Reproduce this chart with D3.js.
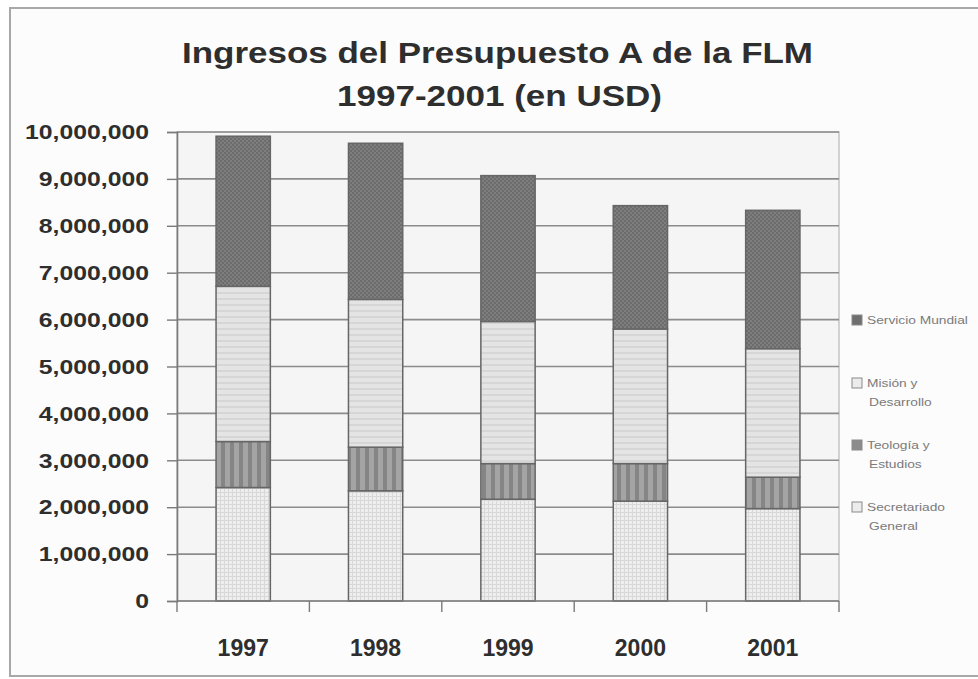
<!DOCTYPE html>
<html>
<head>
<meta charset="utf-8">
<script src="https://cdn.jsdelivr.net/npm/d3@7"></script>
<style>
  body { margin: 0; background: #ffffff; }
  svg text { font-family: "Liberation Sans", Arial, sans-serif; }
</style>
</head>
<body>
<svg id="chart" width="978" height="679"></svg>
<script>
const years = ['1997', '1998', '1999', '2000', '2001'];
const seriesNames = ['Secretariado General', 'Teología y Estudios', 'Misión y Desarrollo', 'Servicio Mundial'];
// values in USD, bottom to top of each stack
const secretariado = [2420000, 2350000, 2170000, 2130000, 1970000];
const teologia = [980000, 930000, 760000, 800000, 670000];
const mision = [3310000, 3150000, 3030000, 2870000, 2740000];
const servicio = [3200000, 3330000, 3110000, 2630000, 2950000];
const yTicks = [0, 1000000, 2000000, 3000000, 4000000, 5000000, 6000000, 7000000, 8000000, 9000000, 10000000];
const legendLines = [
  ['Servicio Mundial'],
  ['Misión y', 'Desarrollo'],
  ['Teología y', 'Estudios'],
  ['Secretariado', 'General']
];

const svg = d3.select('#chart');
const plotLeft = 177, plotRight = 839, plotTop = 132, plotBottom = 601;

// stretch text horizontally, the original is a widened scan
const stretch = (sel, k) => sel.each(function () {
  const w = this.getComputedTextLength();
  d3.select(this).attr('textLength', w * k).attr('lengthAdjust', 'spacingAndGlyphs');
});

// outer frame
svg.append('rect').attr('x', 0).attr('y', 0).attr('width', 978).attr('height', 679).attr('fill', '#ffffff');
svg.append('rect')
  .attr('x', 10).attr('y', 8).attr('width', 990).attr('height', 668)
  .attr('fill', '#fcfcfc').attr('stroke', '#a8a8a8').attr('stroke-width', 2);

// fill patterns
const defs = svg.append('defs');

const pServ = defs.append('pattern').attr('id', 'p-serv').attr('patternUnits', 'userSpaceOnUse').attr('width', 4).attr('height', 4);
pServ.append('rect').attr('width', 4).attr('height', 4).attr('fill', '#7e7e7e');
pServ.append('rect').attr('width', 2).attr('height', 2).attr('fill', '#6c6c6c');
pServ.append('rect').attr('x', 2).attr('y', 2).attr('width', 2).attr('height', 2).attr('fill', '#6c6c6c');

const pMis = defs.append('pattern').attr('id', 'p-mis').attr('patternUnits', 'userSpaceOnUse').attr('width', 6).attr('height', 6);
pMis.append('rect').attr('width', 6).attr('height', 6).attr('fill', '#e4e4e4');
pMis.append('rect').attr('y', 4).attr('width', 6).attr('height', 2).attr('fill', '#d6d6d6');

const pTeo = defs.append('pattern').attr('id', 'p-teo').attr('patternUnits', 'userSpaceOnUse').attr('width', 9).attr('height', 9);
pTeo.append('rect').attr('width', 9).attr('height', 9).attr('fill', '#a4a4a4');
pTeo.append('rect').attr('x', 5).attr('width', 4).attr('height', 9).attr('fill', '#858585');

const pSec = defs.append('pattern').attr('id', 'p-sec').attr('patternUnits', 'userSpaceOnUse').attr('width', 4).attr('height', 4);
pSec.append('rect').attr('width', 4).attr('height', 4).attr('fill', '#eeeeee');
pSec.append('rect').attr('width', 1).attr('height', 4).attr('fill', '#d8d8d8');
pSec.append('rect').attr('width', 4).attr('height', 1).attr('fill', '#d8d8d8');

const fills = ['url(#p-sec)', 'url(#p-teo)', 'url(#p-mis)', 'url(#p-serv)'];
const legendFills = ['#6f6f6f', '#ececec', '#8c8c8c', '#ececec'];

// scales
const x = d3.scaleBand().domain(years).range([plotLeft, plotRight]).paddingInner(0.59).paddingOuter(0.295);
const y = d3.scaleLinear().domain([0, 10000000]).range([plotBottom, plotTop]);

// plot area
svg.append('rect')
  .attr('x', plotLeft).attr('y', plotTop).attr('width', plotRight - plotLeft).attr('height', plotBottom - plotTop)
  .attr('fill', '#f5f5f5').attr('stroke', '#c4c4c4').attr('stroke-width', 1.5);

// gridlines
svg.append('g')
  .selectAll('line')
  .data(yTicks.filter((d) => d > 0))
  .enter()
  .append('line')
  .attr('x1', plotLeft).attr('x2', plotRight)
  .attr('y1', (d) => y(d)).attr('y2', (d) => y(d))
  .attr('stroke', '#8c8c8c').attr('stroke-width', 1.6);

// stacked bars
const table = years.map((yr, i) => ({
  year: yr, s0: secretariado[i], s1: teologia[i], s2: mision[i], s3: servicio[i]
}));
const stack = d3.stack().keys(['s0', 's1', 's2', 's3'])(table);

svg.append('g')
  .selectAll('g')
  .data(stack)
  .enter()
  .append('g')
  .attr('fill', (d, i) => fills[i])
  .selectAll('rect')
  .data((d) => d)
  .enter()
  .append('rect')
  .attr('x', (d) => x(d.data.year))
  .attr('y', (d) => y(d[1]))
  .attr('width', x.bandwidth())
  .attr('height', (d) => y(d[0]) - y(d[1]))
  .attr('stroke', '#666666')
  .attr('stroke-width', 1.5);

// y axis
const yAxis = svg.append('g')
  .attr('transform', `translate(${plotLeft},0)`)
  .call(d3.axisLeft(y).tickValues(yTicks).tickSize(10).tickPadding(18).tickFormat(d3.format(',')));
yAxis.select('.domain').attr('stroke', '#7a7a7a').attr('stroke-width', 1.6);
yAxis.selectAll('.tick line').attr('stroke', '#7a7a7a').attr('stroke-width', 1.4);
yAxis.selectAll('text')
  .attr('fill', '#2e2e2e')
  .style('font-size', '21px')
  .style('font-weight', 'bold')
  .call(stretch, 1.18);

// x axis line and boundary ticks
svg.append('line')
  .attr('x1', plotLeft).attr('x2', plotRight).attr('y1', plotBottom).attr('y2', plotBottom)
  .attr('stroke', '#7a7a7a').attr('stroke-width', 1.6);
svg.append('g')
  .selectAll('line')
  .data(years.map((yr, i) => i).concat([years.length]))
  .enter()
  .append('line')
  .attr('x1', (i) => plotLeft + x.step() * i).attr('x2', (i) => plotLeft + x.step() * i)
  .attr('y1', plotBottom).attr('y2', plotBottom + 11)
  .attr('stroke', '#7a7a7a').attr('stroke-width', 1.4);

svg.append('g')
  .selectAll('text')
  .data(years)
  .enter()
  .append('text')
  .attr('x', (d) => x(d) + x.bandwidth() / 2)
  .attr('y', 656)
  .attr('text-anchor', 'middle')
  .attr('fill', '#2e2e2e')
  .style('font-size', '23px')
  .style('font-weight', 'bold')
  .text((d) => d);

// title
const titleLines = ['Ingresos del Presupuesto A de la FLM', '1997-2001 (en USD)'];
const titleLen = [631, 325];
svg.append('g')
  .selectAll('text')
  .data(titleLines)
  .enter()
  .append('text')
  .attr('x', (d, i) => (i === 0 ? 497.5 : 499.5))
  .attr('y', (d, i) => (i === 0 ? 63 : 106))
  .attr('text-anchor', 'middle')
  .attr('fill', '#2e2e2e')
  .attr('textLength', (d, i) => titleLen[i])
  .attr('lengthAdjust', 'spacingAndGlyphs')
  .style('font-size', '30px')
  .style('font-weight', 'bold')
  .text((d) => d);

// legend
const legendY = [320, 383, 445, 507];
const legend = svg.append('g')
  .selectAll('g')
  .data(legendLines)
  .enter()
  .append('g')
  .attr('transform', (d, i) => `translate(852,${legendY[i]})`);
legend.append('rect')
  .attr('x', 0).attr('y', -5).attr('width', 10).attr('height', 10)
  .attr('fill', (d, i) => legendFills[i])
  .attr('stroke', '#8a8a8a').attr('stroke-width', 1);
legend.selectAll('text')
  .data((d) => d)
  .enter()
  .append('text')
  .attr('x', (d, j) => (j === 0 ? 15 : 17))
  .attr('y', (d, j) => 4 + j * 19)
  .attr('fill', '#7a7a7a')
  .style('font-size', '11px')
  .text((d) => d)
  .call(stretch, 1.25);
</script>
</body>
</html>
